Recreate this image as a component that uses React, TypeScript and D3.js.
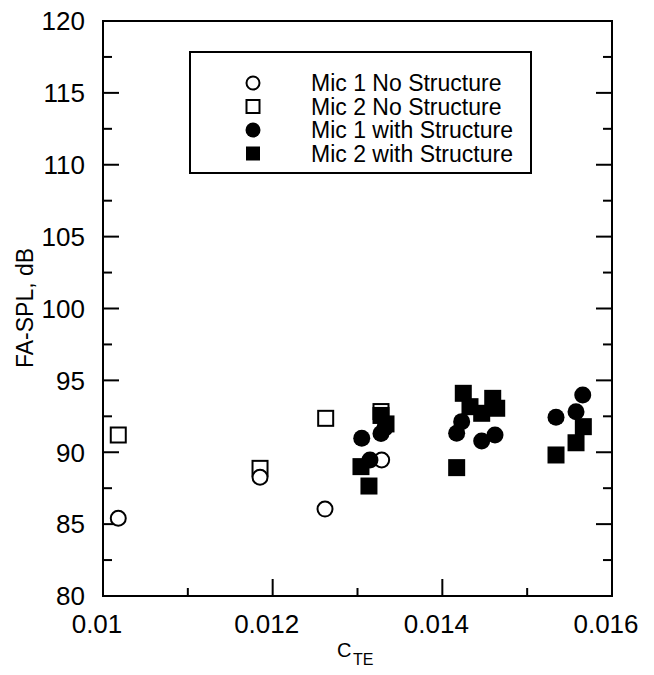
import React from "react";
import * as d3 from "d3";

const mic1NoStruct: [number, number][] = [
  [0.01018, 85.41],
  [0.011851, 88.26],
  [0.012617, 86.05],
  [0.013285, 89.46],
];
const mic2NoStruct: [number, number][] = [
  [0.01018, 91.2],
  [0.011851, 88.88],
  [0.012625, 92.36],
  [0.013277, 92.83],
];
const mic1WithStruct: [number, number][] = [
  [0.01305, 90.97],
  [0.013147, 89.46],
  [0.013277, 91.3],
  [0.013324, 91.69],
  [0.014228, 92.13],
  [0.014169, 91.32],
  [0.014464, 90.78],
  [0.014621, 91.2],
  [0.015655, 93.98],
  [0.015576, 92.82],
  [0.01534, 92.43],
];
const mic2WithStruct: [number, number][] = [
  [0.013041, 89.0],
  [0.013135, 87.65],
  [0.013277, 92.56],
  [0.013336, 91.97],
  [0.014247, 94.1],
  [0.014326, 93.17],
  [0.014464, 92.71],
  [0.014594, 93.75],
  [0.014641, 93.06],
  [0.014169, 88.93],
  [0.015662, 91.78],
  [0.015576, 90.66],
  [0.01534, 89.81],
];

const xMajorTicks = [0.01, 0.012, 0.014, 0.016];
const xTickLabels = ["0.01", "0.012", "0.014", "0.016"];
const xMinorTicks = [0.011, 0.013, 0.015];
const yMajorTicks = [80, 85, 90, 95, 100, 105, 110, 115, 120];
const yMinorTicks = [82.5, 87.5, 92.5, 97.5, 102.5, 107.5, 112.5, 117.5];
const legendLabels = [
  "Mic 1 No Structure",
  "Mic 2 No Structure",
  "Mic 1 with Structure",
  "Mic 2 with Structure",
];

const FONT = "'Liberation Sans', Arial, Helvetica, sans-serif";

export default function App() {
  const L = 103, R = 612, T = 21, B = 596;
  const x = d3.scaleLinear().domain([0.01, 0.016]).range([L, R]);
  const y = d3.scaleLinear().domain([80, 120]).range([B, T]);

  const openCircle = (cx: number, cy: number, r: number, k: string) => (
    <circle key={k} cx={cx} cy={cy} r={r} fill="white" stroke="black" strokeWidth={2} />
  );
  const openSquare = (cx: number, cy: number, s: number, k: string) => (
    <rect key={k} x={cx - s / 2} y={cy - s / 2} width={s} height={s} fill="white" stroke="black" strokeWidth={2} />
  );
  const filledCircle = (cx: number, cy: number, r: number, k: string) => (
    <circle key={k} cx={cx} cy={cy} r={r} fill="black" />
  );
  const filledSquare = (cx: number, cy: number, s: number, k: string) => (
    <rect key={k} x={cx - s / 2} y={cy - s / 2} width={s} height={s} fill="black" />
  );

  const legendRows = [83, 106.5, 130, 153.5];
  const legX = 253;

  return (
    <svg
      width={654}
      height={675}
      style={{ position: "absolute", left: 0, top: 0, background: "white" }}
      fontFamily={FONT}
    >
      <rect x={0} y={0} width={654} height={675} fill="white" />
      {/* frame */}
      <rect x={L} y={T} width={R - L} height={B - T} fill="none" stroke="black" strokeWidth={2} />
      {/* y ticks */}
      {yMajorTicks.map((v) => (
        <g key={"ym" + v}>
          <line x1={L} x2={L + 16} y1={y(v)} y2={y(v)} stroke="black" strokeWidth={2} />
          <line x1={R} x2={R - 16} y1={y(v)} y2={y(v)} stroke="black" strokeWidth={2} />
          <text x={85} y={y(v)} dy="0.36em" textAnchor="end" fontSize={26}>
            {v}
          </text>
        </g>
      ))}
      {yMinorTicks.map((v) => (
        <g key={"yn" + v}>
          <line x1={L} x2={L + 9} y1={y(v)} y2={y(v)} stroke="black" strokeWidth={2} />
          <line x1={R} x2={R - 9} y1={y(v)} y2={y(v)} stroke="black" strokeWidth={2} />
        </g>
      ))}
      {/* x ticks */}
      {xMajorTicks.map((v, i) => (
        <g key={"xm" + v}>
          <line x1={x(v)} x2={x(v)} y1={B} y2={B - 17} stroke="black" strokeWidth={2} />
          <text x={x(v) - 6} y={633} textAnchor="middle" fontSize={26}>
            {xTickLabels[i]}
          </text>
        </g>
      ))}
      {xMinorTicks.map((v) => (
        <line key={"xn" + v} x1={x(v)} x2={x(v)} y1={B} y2={B - 8} stroke="black" strokeWidth={2} />
      ))}
      {/* axis titles */}
      <text transform="translate(33,308) rotate(-90)" textAnchor="middle" fontSize={23}>
        FA-SPL, dB
      </text>
      <text x={337} y={657} fontSize={20}>
        C
      </text>
      <text x={353} y={665} fontSize={16}>
        TE
      </text>

      {/* data */}
      {mic2NoStruct.map((d, i) => openSquare(x(d[0]), y(d[1]), 15, "s2n" + i))}
      {mic1NoStruct.map((d, i) => openCircle(x(d[0]), y(d[1]), 7.5, "s1n" + i))}
      {mic1WithStruct.map((d, i) => filledCircle(x(d[0]), y(d[1]), 8.5, "s1w" + i))}
      {mic2WithStruct.map((d, i) => filledSquare(x(d[0]), y(d[1]), 17, "s2w" + i))}

      {/* legend */}
      <rect x={190} y={52} width={341} height={121} fill="white" stroke="black" strokeWidth={2} />
      {openCircle(legX, legendRows[0], 6.5, "lg0")}
      {openSquare(legX, legendRows[1], 13, "lg1")}
      {filledCircle(legX, legendRows[2], 7.5, "lg2")}
      {filledSquare(legX, legendRows[3], 14, "lg3")}
      {legendLabels.map((t, i) => (
        <text key={"lt" + i} x={311} y={legendRows[i] + 8} fontSize={23}>
          {t}
        </text>
      ))}
    </svg>
  );
}
